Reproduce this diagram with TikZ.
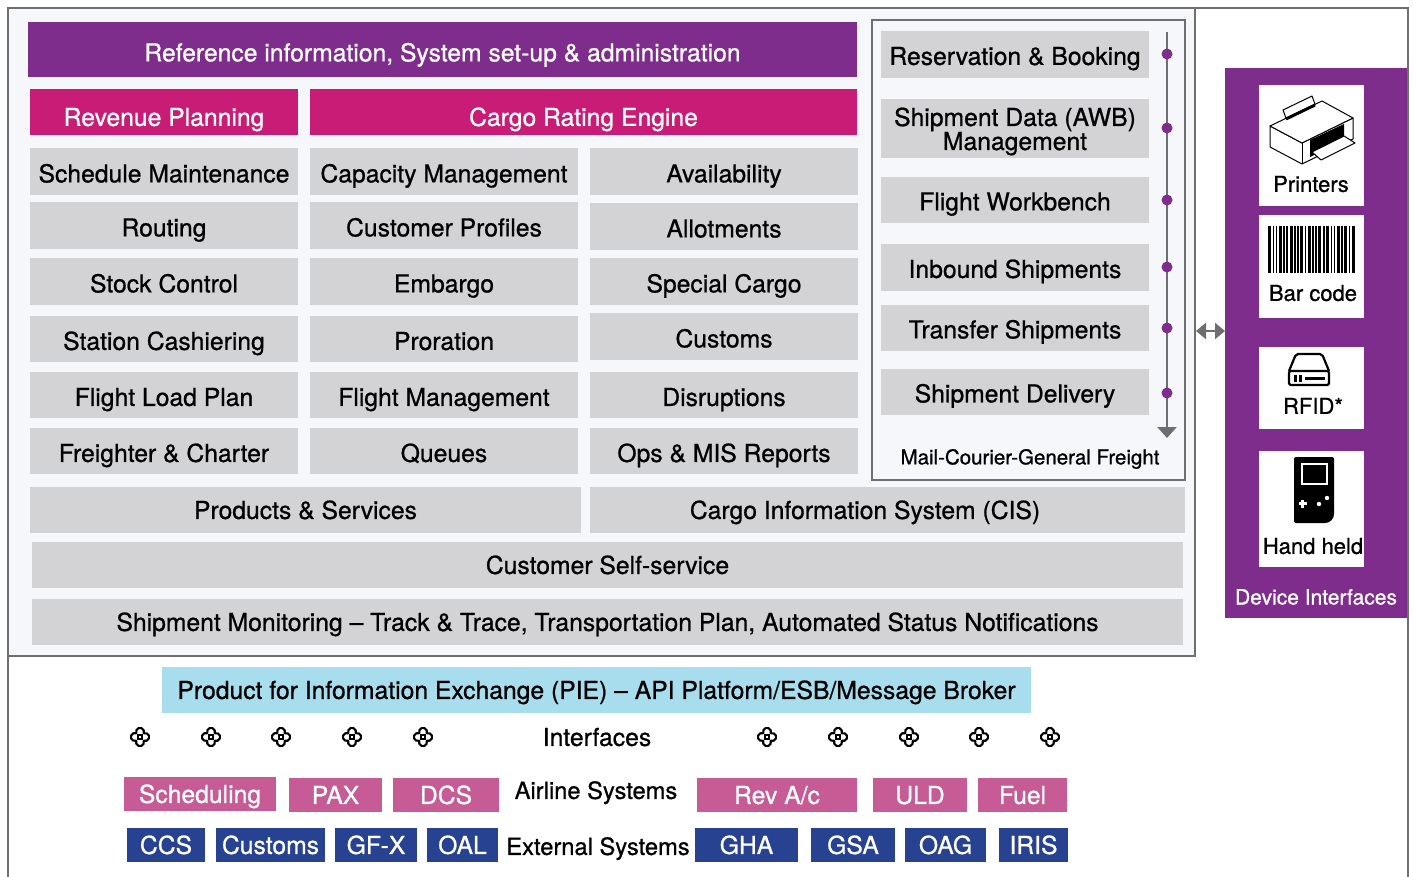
\documentclass[tikz,border=0pt]{standalone}
\usepackage{fontspec}
\setmainfont{TeX Gyre Heros}[BoldFont={TeX Gyre Heros}, BoldFeatures={FakeBold=0.8}]
\usetikzlibrary{arrows.meta}
\definecolor{cPurple}{HTML}{7F2D8C}
\definecolor{cMagenta}{HTML}{C91C77}
\definecolor{cGray}{HTML}{D3D3D5}
\definecolor{cBg}{HTML}{F5F7FB}
\definecolor{cFrame}{HTML}{6E6E70}
\definecolor{cBlue}{HTML}{A7DDEC}
\definecolor{cPink}{HTML}{C75B95}
\definecolor{cNavy}{HTML}{274290}
\newcommand\fsMain{\fontsize{24.7}{24}\bfseries\selectfont}
\newcommand\fsSys{\fontsize{23.7}{24}\bfseries\selectfont}
\newcommand\fsCard{\fontsize{22}{24}\bfseries\selectfont}
\newcommand\fsSmall{\fontsize{20.5}{24}\bfseries\selectfont}
\newcommand\BoxAt[7]{\node[#2, minimum width={#5-#3}, minimum height={#6-#4}] (#1) at ({(#3+#5)/2},{(#4+#6)/2}) {#7};}
\begin{document}
\begin{tikzpicture}[x=1pt,y=-1pt,
  base/.style={inner sep=0pt, text height=17.8pt, text depth=0pt, font=\fsMain},
  gcell/.style={base, fill=cGray, text=black, text height=21.8pt},
  rcell/.style={base, fill=cGray, text=black, text height=20.8pt},
  bcell/.style={base, fill=cGray, text=black},
  hdr/.style={base, fill=cPurple, text=white, text height=23.8pt},
  mag/.style={base, fill=cMagenta, text=white, text height=27.8pt},
  pie/.style={base, fill=cBlue, text=black},
  pinkb/.style={base, fill=cPink, text=white},
  navyb/.style={base, fill=cNavy, text=white},
  card/.style={fill=white, inner sep=0pt},
  lbl/.style={inner sep=0pt, text height=15.8pt, text depth=0pt, font=\fsCard},
  plain/.style={inner sep=0pt, text height=17.8pt, text depth=0pt, font=\fsMain},
  frameline/.style={draw=cFrame, line width=2.5pt},
  dotn/.style={circle, fill=cPurple, inner sep=0pt, minimum size=11pt},
  ifsym/.pic={
    \draw[black, line width=2.1pt, line join=round] (5.2,0) ++(-111.8:4)
      arc[start angle=-111.8, end angle=111.8, radius=4]
      arc[start angle=-21.8, end angle=201.8, radius=4]
      arc[start angle=68.2, end angle=291.8, radius=4]
      arc[start angle=158.2, end angle=381.8, radius=4] -- cycle;
    \draw[black, line width=1.7pt] (-2,-2) rectangle (2,2);
  }]
\useasboundingbox (0,0) rectangle (1413,877);
\fill[white] (0,0) rectangle (1413,877);
% main panel
\BoxAt{main}{fill=cBg, frameline, inner sep=0pt}{8}{8}{1195}{656}{}
% outer frame
\draw[frameline] (8,880) -- (8,8) -- (1408,8) -- (1408,880);
% header rows
\BoxAt{refinfo}{hdr}{28}{22}{857}{77}{Reference information, System set-up \& administration}
\BoxAt{revplan}{mag}{30}{89}{298}{135}{Revenue Planning}
\BoxAt{rating}{mag}{310}{89}{857}{135}{Cargo Rating Engine}
% grid
\BoxAt{c11}{gcell}{30}{148}{298}{195}{Schedule Maintenance}
\BoxAt{c21}{gcell}{30}{202}{298}{249}{Routing}
\BoxAt{c31}{gcell}{30}{258}{298}{305}{Stock Control}
\BoxAt{c41}{gcell}{30}{316}{298}{362}{Station Cashiering}
\BoxAt{c51}{gcell}{30}{372}{298}{418}{Flight Load Plan}
\BoxAt{c61}{gcell}{30}{428}{298}{474}{Freighter \& Charter}
\BoxAt{c12}{gcell}{310}{148}{578}{195}{Capacity Management}
\BoxAt{c22}{gcell}{310}{202}{578}{249}{Customer Profiles}
\BoxAt{c32}{gcell}{310}{258}{578}{305}{Embargo}
\BoxAt{c42}{gcell}{310}{316}{578}{362}{Proration}
\BoxAt{c52}{gcell}{310}{372}{578}{418}{Flight Management}
\BoxAt{c62}{gcell}{310}{428}{578}{474}{Queues}
\BoxAt{c13}{gcell}{590}{148}{858}{195}{Availability}
\BoxAt{c23}{gcell}{590}{203}{858}{250}{Allotments}
\BoxAt{c33}{gcell}{590}{258}{858}{305}{Special Cargo}
\BoxAt{c43}{gcell}{590}{313}{858}{360}{Customs}
\BoxAt{c53}{gcell}{590}{372}{858}{418}{Disruptions}
\BoxAt{c63}{gcell}{590}{428}{858}{474}{Ops \& MIS Reports}
% right column
\BoxAt{rcol}{frameline, inner sep=0pt}{872}{20}{1185}{480}{}
\BoxAt{r1}{rcell}{881}{31}{1149}{78}{Reservation \& Booking}
\BoxAt{r2}{rcell, align=center, text height=43pt}{881}{99}{1149}{158}{Shipment Data (AWB)\\Management}
\BoxAt{r3}{rcell}{881}{177}{1149}{223}{Flight Workbench}
\BoxAt{r4}{rcell}{881}{244}{1149}{291}{Inbound Shipments}
\BoxAt{r5}{rcell}{881}{305}{1149}{351}{Transfer Shipments}
\BoxAt{r6}{rcell}{881}{369}{1149}{415}{Shipment Delivery}
\coordinate (vtop) at (1167,32);
\coordinate (vbot) at (1167,438);
\draw[cFrame, line width=2.5pt, -{Triangle[width=19pt,length=11pt]}] (vtop) -- (vbot);
\foreach \n/\y in {d1/54,d2/128,d3/200,d4/267,d5/328,d6/393} \node[dotn] (\n) at (1167,\y) {};
\node[inner sep=0pt, text height=14.8pt, text depth=0pt, font=\fsSmall] (mail) at (1030,457) {Mail-Courier-General Freight};
% bottom rows
\BoxAt{prod}{bcell}{30}{487}{581}{533}{Products \& Services}
\BoxAt{cis}{bcell}{590}{487}{1185}{533}{}
\node[plain] (cistext) at (865,510) {Cargo Information System (CIS)};
\BoxAt{selfs}{bcell}{32}{542}{1183}{588}{Customer Self-service}
\BoxAt{monit}{bcell}{32}{599}{1183}{645}{Shipment Monitoring – Track \& Trace, Transportation Plan, Automated Status Notifications}
% device panel
\BoxAt{devpanel}{fill=cPurple, inner sep=0pt}{1225}{68}{1408}{618}{}
\draw[frameline] (1408,8) -- (1408,880);
\BoxAt{cprint}{card}{1259}{85}{1364}{206}{}
\BoxAt{cbar}{card}{1259}{215}{1364}{318}{}
\BoxAt{crfid}{card}{1259}{347}{1364}{429}{}
\BoxAt{chand}{card}{1259}{451}{1364}{567}{}
\node[lbl] (lprint) at (1311,184) {Printers};
\node[lbl] (lbar) at (1313,293) {Bar code};
\node[lbl] (lrfid) at (1313,406) {RFID*};
\node[lbl] (lhand) at (1313,546) {Hand held};
\node[inner sep=0pt, text height=15pt, text depth=0pt, font=\fontsize{21}{24}\bfseries\selectfont, text=white] (ldev) at (1316,597) {Device Interfaces};
% double arrow
\coordinate (da1) at (1196,331);
\coordinate (da2) at (1225,331);
\draw[cFrame, line width=2.5pt, {Triangle[width=16pt,length=10pt]}-{Triangle[width=16pt,length=10pt]}] (da1) -- (da2);
% printer icon
\begin{scope}[line width=1pt, line join=round]
  \filldraw[fill=white, draw=black] (1283,110) -- (1312,96) -- (1316,107) -- (1287,121) -- cycle;
  \filldraw[fill=white, draw=black] (1270,126) -- (1270,147) -- (1302,164) -- (1353,139) -- (1353,118) -- (1302,143) -- cycle;
  \filldraw[fill=white, draw=black] (1270,126) -- (1322,101) -- (1353,118) -- (1302,143) -- cycle;
  \draw[black] (1302,143) -- (1302,164);
  \draw[black, line width=3pt] (1286,119) -- (1315,105);
  \fill[black] (1310,140) -- (1344,124) -- (1344,141) -- (1310,157) -- cycle;
  \filldraw[fill=white, draw=black] (1312,152) -- (1344,136) -- (1355,143) -- (1321,160) -- cycle;
\end{scope}
% barcode
\foreach \a/\w in {0/3,4.5/1.5,7.5/1.5,10.5/3,15/1.5,18/2,21.5/3,26/1.5,29/1.5,32/3,36.5/1.5,39.5/3,44/1.5,47/1.5,50/3,54.5/2,58/3,62.5/1.5,65.5/1.5,68.5/3,73/1.5,76/3,80.5/1.5,83.5/3}
  \fill[black] (1268+\a,226) rectangle (1268+\a+\w,273);
% rfid icon
\begin{scope}[line width=2.2pt, line join=round]
  \draw[black, rounded corners=2pt] (1289,371) -- (1296,354) -- (1322,354) -- (1329,371);
  \draw[black, rounded corners=2pt] (1289,371) rectangle (1329,385);
  \fill[black] (1294,375) rectangle (1297,382);
  \fill[black] (1299,375) rectangle (1302,382);
  \fill[black] (1305,376.5) rectangle (1325,379.5);
\end{scope}
% handheld icon
\fill[black, rounded corners=2pt] (1294,457) -- (1334,457) -- (1334,510) [rounded corners=9pt] -- (1334,523) [rounded corners=2pt] -- (1294,523) -- cycle;
\draw[white, line width=2pt] (1302,464) rectangle (1327,484);
\fill[white] (1298.5,502) rectangle (1306.5,505);
\fill[white] (1301,499.5) rectangle (1304,507.5);
\fill[white] (1319,504) circle (2.2);
\fill[white] (1327,498) circle (2.2);
% PIE
\BoxAt{pie}{pie}{162}{667}{1031}{713}{Product for Information Exchange (PIE) – API Platform/ESB/Message Broker}
\foreach \x in {140,211,281,352,423,767,838,909,979,1050} \pic at (\x,737) {ifsym};
\node[plain] (ifaces) at (597,737) {Interfaces};
\node[plain, font=\fsSys] (airline) at (596,790) {Airline Systems};
\node[plain, font=\fsSys] (external) at (598,846) {External Systems};
\BoxAt{sched}{pinkb}{124}{777}{276}{811}{Scheduling}
\BoxAt{pax}{pinkb}{289}{778}{382}{812}{PAX}
\BoxAt{dcs}{pinkb}{393}{778}{499}{812}{DCS}
\BoxAt{reva}{pinkb}{697}{778}{857}{812}{Rev A/c}
\BoxAt{uld}{pinkb}{873}{778}{967}{812}{ULD}
\BoxAt{fuel}{pinkb}{978}{778}{1067}{812}{Fuel}
\BoxAt{ccs}{navyb}{127}{828}{205}{862}{CCS}
\BoxAt{cust}{navyb}{216}{828}{325}{862}{Customs}
\BoxAt{gfx}{navyb}{335}{828}{417}{862}{GF-X}
\BoxAt{oal}{navyb}{427}{828}{498}{862}{OAL}
\BoxAt{gha}{navyb}{695}{828}{798}{862}{GHA}
\BoxAt{gsa}{navyb}{811}{828}{895}{862}{GSA}
\BoxAt{oag}{navyb}{905}{828}{986}{862}{OAG}
\BoxAt{iris}{navyb}{999}{828}{1068}{862}{IRIS}
\end{tikzpicture}
\end{document}
